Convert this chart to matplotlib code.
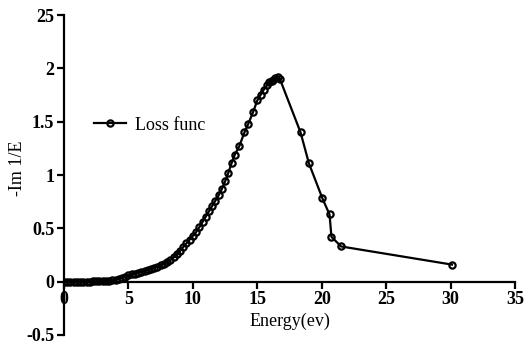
import matplotlib.pyplot as plt

plt.rcParams['font.family'] = ['Liberation Serif', 'DejaVu Serif']
plt.rcParams['font.weight'] = 'bold'

# data
energy = [0.0, 0.25, 0.5, 0.75, 1.0, 1.25, 1.5, 1.75, 2.0, 2.25, 2.5, 2.75, 3.0,
          3.25, 3.5, 3.75, 4.0, 4.25, 4.5, 4.75, 5.0, 5.25, 5.5, 5.75, 6.0,
          6.25, 6.5, 6.75, 7.0, 7.25, 7.5, 7.75, 8.0, 8.25, 8.5, 8.75, 9.0,
          9.25, 9.5, 9.75, 10.0, 10.25, 10.5, 10.75, 11.0, 11.25, 11.5, 11.75,
          12.0, 12.25, 12.5, 12.75, 13.0, 13.25, 13.6, 14.0, 14.3, 14.67, 15.0,
          15.25, 15.5, 15.75, 15.9, 16.1, 16.25, 16.4, 16.6, 16.75, 18.35,
          19.0, 20.05, 20.6, 20.75, 21.5, 30.1]
loss = [0.0, 0.0, 0.0, 0.0, 0.0, 0.0, 0.0, 0.001, 0.001, 0.002, 0.002, 0.003, 0.004,
        0.006, 0.009, 0.013, 0.018, 0.025, 0.035, 0.045, 0.058, 0.068, 0.076, 0.083, 0.09,
        0.098, 0.106, 0.116, 0.128, 0.141, 0.155, 0.168, 0.183, 0.203, 0.228, 0.258, 0.29,
        0.325, 0.36, 0.395, 0.43, 0.465, 0.51, 0.56, 0.61, 0.66, 0.71, 0.76,
        0.81, 0.87, 0.94, 1.02, 1.11, 1.19, 1.27, 1.40, 1.48, 1.59, 1.70,
        1.75, 1.80, 1.84, 1.87, 1.88, 1.89, 1.91, 1.92, 1.90, 1.40,
        1.11, 0.78, 0.63, 0.42, 0.33, 0.16]

xticks = [0, 5, 10, 15, 20, 25, 30, 35]
yticks = [-0.5, 0, 0.5, 1, 1.5, 2, 2.5]
ytick_labels = ['-0.5', '0', '0.5', '1', '1.5', '2', '25']

fig = plt.figure(figsize=(5.32, 3.45), dpi=100)
ax = fig.add_axes([0.1203, 0.029, 0.848, 0.9275])

# hollow markers, line shows through them
ax.plot(energy, loss, color='black', lw=1.6, marker='o', markersize=4.5,
        markerfacecolor='none', markeredgecolor='black', markeredgewidth=1.6,
        label='Loss func')

ax.set_xlim(0, 35)
ax.set_ylim(-0.5, 2.5)
ax.set_xticks(xticks)
ax.set_xticklabels([str(t) for t in xticks])
ax.set_yticks(yticks)
ax.set_yticklabels(ytick_labels)

ax.spines['top'].set_visible(False)
ax.spines['right'].set_visible(False)
ax.spines['bottom'].set_position(('data', 0))
for s in ['left', 'bottom']:
    ax.spines[s].set_linewidth(1.6)
ax.tick_params(direction='out', length=5, width=1.6, labelsize=13, pad=2)

ax.set_xlabel('Energy(ev)', fontsize=13, fontweight='normal')
ax.xaxis.set_label_coords(0.5, 0.07)
ax.set_ylabel('-Im 1/E', fontsize=13, fontweight='normal')
ax.yaxis.set_label_coords(-0.085, 0.52)

ax.legend(loc='center left', bbox_to_anchor=(0.03, 0.656), frameon=False,
          prop={'size': 13, 'weight': 'normal'}, handlelength=1.8, handletextpad=0.5)

fig.savefig('out.png', dpi=100)
